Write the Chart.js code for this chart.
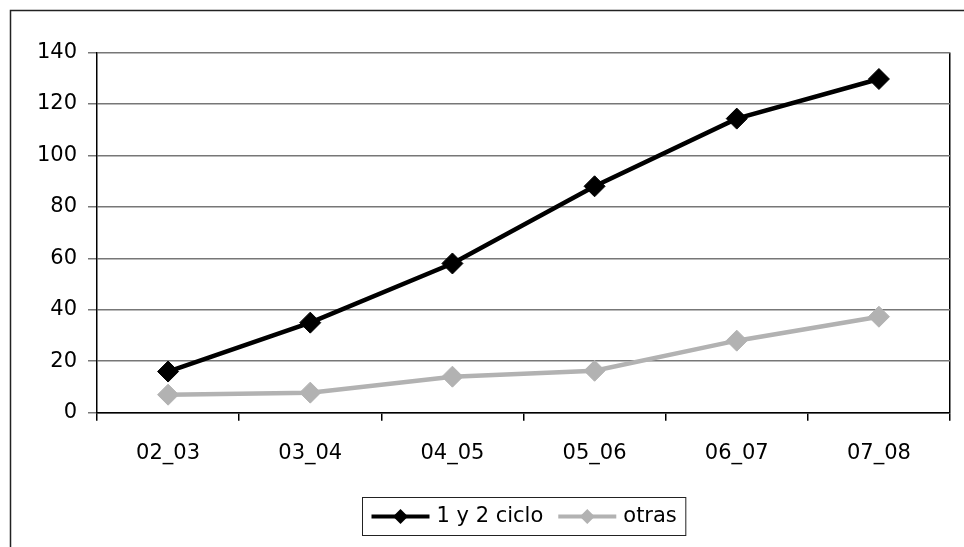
<!DOCTYPE html>
<html>
<head>
<meta charset="utf-8">
<script src="https://cdn.jsdelivr.net/npm/chart.js@4/dist/chart.umd.min.js"></script>
<style>
  html, body { margin: 0; padding: 0; background: #fff; }
  #wrap { width: 964px; height: 547px; position: relative; }
</style>
</head>
<body>
<div id="wrap"><canvas id="c" width="964" height="547"></canvas></div>
<script>
// Academic years on the horizontal axis
const categories = ['02_03', '03_04', '04_05', '05_06', '06_07', '07_08'];
// Series values
const cicloValues = [16, 35, 58, 88, 114.3, 129.7];
const otrasValues = [7, 7.8, 14, 16.3, 28, 37.3];
// Series names
const seriesNames = ['1 y 2 ciclo', 'otras'];
// Y axis ticks
const yTicks = [0, 20, 40, 60, 80, 100, 120, 140];

const FONT = { family: '"DejaVu Sans", sans-serif', size: 21 };
const BLACK = '#000000';
const GREY = '#b2b2b2';

// Outer frame and a boxed legend under the plot
const decorations = {
  id: 'decorations',
  beforeDraw(chart) {
    const ctx = chart.ctx;
    ctx.save();
    ctx.strokeStyle = '#222';
    ctx.lineWidth = 1.5;
    ctx.beginPath();
    ctx.moveTo(10.5, chart.height + 2);
    ctx.lineTo(10.5, 10.5);
    ctx.lineTo(chart.width + 2, 10.5);
    ctx.stroke();
    ctx.restore();
  },
  afterDraw(chart) {
    const ctx = chart.ctx;
    const ds = chart.data.datasets;
    const area = chart.chartArea;
    ctx.save();
    ctx.font = FONT.size + 'px ' + FONT.family;
    const sample = 58, gapText = 7, gapItem = 15, padX = 9;
    let total = 0;
    ds.forEach((d, i) => {
      total += sample + gapText + ctx.measureText(d.label).width;
      if (i < ds.length - 1) total += gapItem;
    });
    const boxW = total + padX * 2;
    const boxH = 38;
    const cx = (area.left + area.right) / 2;
    const boxX = Math.round(cx - boxW / 2) + 0.5;
    const boxY = 497.5;
    const midY = boxY + boxH / 2;
    ctx.strokeStyle = '#222';
    ctx.lineWidth = 1;
    ctx.strokeRect(boxX, boxY, boxW, boxH);
    let x = boxX + padX;
    ds.forEach((d) => {
      ctx.strokeStyle = d.borderColor;
      ctx.lineWidth = 4;
      ctx.beginPath();
      ctx.moveTo(x, midY);
      ctx.lineTo(x + sample, midY);
      ctx.stroke();
      const mx = x + sample / 2, r = 7.5;
      ctx.fillStyle = d.borderColor;
      ctx.beginPath();
      ctx.moveTo(mx - r, midY);
      ctx.lineTo(mx, midY - r);
      ctx.lineTo(mx + r, midY);
      ctx.lineTo(mx, midY + r);
      ctx.closePath();
      ctx.fill();
      x += sample + gapText;
      ctx.fillStyle = '#000';
      ctx.textBaseline = 'middle';
      ctx.textAlign = 'left';
      ctx.fillText(d.label, x, midY);
      x += ctx.measureText(d.label).width + gapItem;
    });
    ctx.restore();
  }
};

new Chart(document.getElementById('c'), {
  type: 'line',
  data: {
    labels: categories,
    datasets: [
      {
        label: seriesNames[0],
        data: cicloValues,
        borderColor: BLACK,
        backgroundColor: BLACK,
        borderWidth: 4.5,
        pointStyle: 'rectRot',
        pointRadius: 10.5,
        pointBorderWidth: 1,
        tension: 0
      },
      {
        label: seriesNames[1],
        data: otrasValues,
        borderColor: GREY,
        backgroundColor: GREY,
        borderWidth: 4.5,
        pointStyle: 'rectRot',
        pointRadius: 10.5,
        pointBorderWidth: 1,
        tension: 0
      }
    ]
  },
  options: {
    responsive: false,
    animation: false,
    events: [],
    layout: { padding: { left: 0, top: 52.5, right: 14, bottom: 0 } },
    plugins: {
      legend: { display: false },
      tooltip: { enabled: false }
    },
    scales: {
      x: {
        offset: true,
        afterFit(scale) { scale.height = 134.3; },
        grid: {
          offset: true,
          drawOnChartArea: true,
          color: (c) => (c.type === 'tick' ? 'rgba(0,0,0,0)' : '#000'),
          tickColor: '#000',
          tickLength: 8,
          lineWidth: 1.5
        },
        border: { color: '#000', width: 1.5 },
        ticks: { color: '#000', font: FONT, padding: 20, maxRotation: 0 }
      },
      y: {
        min: 0,
        max: 140,
        afterFit(scale) { scale.width = 97; },
        afterBuildTicks(scale) { scale.ticks = yTicks.map(v => ({ value: v })); },
        grid: {
          color: '#777',
          tickColor: '#777',
          tickLength: 9,
          lineWidth: 1.5
        },
        border: { color: '#000', width: 1.5 },
        ticks: { color: '#000', font: FONT, padding: 11 }
      }
    }
  },
  plugins: [decorations]
});
</script>
</body>
</html>
